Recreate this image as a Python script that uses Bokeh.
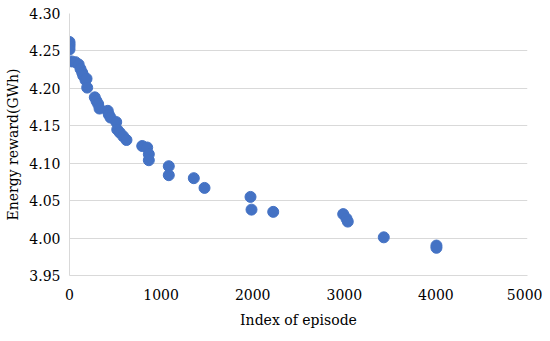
from bokeh.plotting import figure
from bokeh.models import FixedTicker, NumeralTickFormatter, Range1d
from bokeh.embed import file_html
from bokeh.resources import INLINE

episode = [0, 0, 0, 0, 22, 65, 100, 120, 139, 150, 175, 186, 193, 276, 295, 313, 328,
           418, 429, 448, 510, 521, 549, 586, 622, 794, 848, 866, 866,
           1084, 1084, 1357, 1474, 1976, 1987, 2224, 2988, 3024, 3038, 3431, 4006, 4006]
reward = [4.262, 4.259, 4.256, 4.252, 4.236, 4.235, 4.232, 4.226, 4.221, 4.217, 4.211, 4.213, 4.201,
          4.188, 4.183, 4.179, 4.173, 4.170, 4.165, 4.161, 4.155, 4.145, 4.141, 4.136, 4.131,
          4.123, 4.121, 4.112, 4.104, 4.096, 4.084, 4.080, 4.067, 4.055, 4.038, 4.035,
          4.032, 4.026, 4.022, 4.001, 3.990, 3.987]
x_ticks = [0, 1000, 2000, 3000, 4000, 5000]
y_ticks = [3.95, 4.00, 4.05, 4.10, 4.15, 4.20, 4.25, 4.30]

FONT = "DejaVu Serif"

p = figure(width=542, height=334, output_backend="svg", toolbar_location=None,
           x_range=Range1d(0, 5000), y_range=Range1d(3.95, 4.30),
           min_border_left=69, min_border_right=15, min_border_top=13, min_border_bottom=59)
p.outline_line_color = None
p.background_fill_color = "white"

p.scatter(episode, reward, size=11, color="#4472C4", line_color="#4472C4")

p.xaxis.ticker = FixedTicker(ticks=x_ticks)
p.yaxis.ticker = FixedTicker(ticks=y_ticks)
p.yaxis.formatter = NumeralTickFormatter(format="0.00")

for ax in (p.xaxis, p.yaxis):
    ax.axis_line_color = "#D9D9D9"
    ax.major_tick_line_color = None
    ax.minor_tick_line_color = None
    ax.major_tick_out = 0
    ax.major_tick_in = 0
    ax.major_label_text_font = FONT
    ax.major_label_text_font_size = "14px"
    ax.major_label_text_color = "#000000"
    ax.axis_label_text_font = FONT
    ax.axis_label_text_font_size = "14px"
    ax.axis_label_text_font_style = "normal"
    ax.axis_label_text_color = "#000000"

p.xaxis.axis_label = "Index of episode"
p.yaxis.axis_label = "Energy reward(GWh)"
p.xaxis.major_label_standoff = 13
p.yaxis.major_label_standoff = 9
p.xaxis.axis_label_standoff = 9
p.yaxis.axis_label_standoff = 5

p.xgrid.grid_line_color = None
p.ygrid.grid_line_color = "#D9D9D9"

open("out.html", "w").write(file_html(p, INLINE))
